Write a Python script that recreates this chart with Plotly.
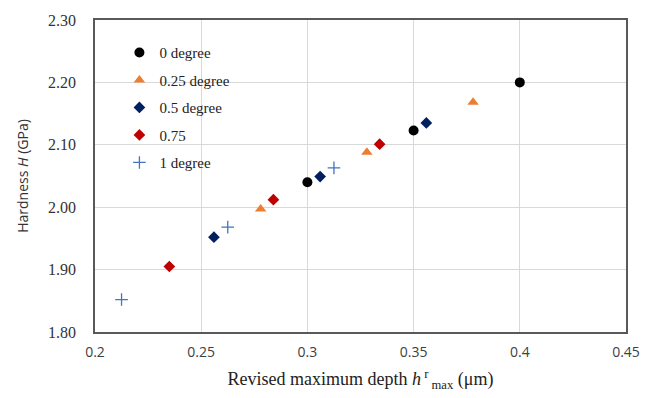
import plotly.graph_objects as go

series_names = ["0 degree", "0.25 degree", "0.5 degree", "0.75", "1 degree"]
x_0 = [0.300, 0.350, 0.400]
y_0 = [2.040, 2.123, 2.200]
x_025 = [0.278, 0.328, 0.378]
y_025 = [1.997, 2.088, 2.168]
x_05 = [0.256, 0.306, 0.356]
y_05 = [1.952, 2.049, 2.135]
x_075 = [0.235, 0.284, 0.334]
y_075 = [1.905, 2.012, 2.101]
x_1 = [0.2125, 0.2625, 0.3125]
y_1 = [1.852, 1.968, 2.063]

x_ticks = [0.2, 0.25, 0.3, 0.35, 0.4, 0.45]
x_ticklabels = ["0.2", "0.25", "0.3", "0.35", "0.4", "0.45"]
y_ticks = [1.8, 1.9, 2.0, 2.1, 2.2, 2.3]
y_ticklabels = ["1.80", "1.90", "2.00", "2.10", "2.20", "2.30"]

SERIF = "Times New Roman, Liberation Serif, DejaVu Serif, serif"
SANS = "Open Sans, Noto Sans, sans-serif"

styles = [
    dict(symbol="circle", color="#000000", size=10, line=dict(width=0)),
    dict(symbol="triangle-up", color="#ED7D31", size=10, line=dict(width=0)),
    dict(symbol="diamond", color="#002060", size=9, line=dict(width=0)),
    dict(symbol="diamond", color="#C00000", size=9, line=dict(width=0)),
    dict(symbol="cross-thin", color="#4472C4", size=9, line=dict(width=1.3, color="#4472C4")),
]
xs = [x_0, x_025, x_05, x_075, x_1]
ys = [y_0, y_025, y_05, y_075, y_1]

fig = go.Figure()
for i, (name, xv, yv, st) in enumerate(zip(series_names, xs, ys, styles)):
    fig.add_trace(go.Scatter(x=xv, y=yv, mode="markers", name=name,
                             legendgroup=f"g{i}", marker=st))

fig.update_layout(
    width=652, height=398,
    margin=dict(l=95, r=17, t=17, b=62),
    paper_bgcolor="white", plot_bgcolor="white",
    showlegend=True,
    legend=dict(x=0.046, y=0.948, xanchor="left", yanchor="top",
                bgcolor="rgba(0,0,0,0)", traceorder="grouped", tracegroupgap=5,
                font=dict(family=SERIF, size=15, color="#222222"),
                itemwidth=30),
    xaxis=dict(range=[0.2, 0.45], tickvals=x_ticks, ticktext=x_ticklabels,
               showgrid=True, gridcolor="#D9D9D9", gridwidth=1,
               showline=True, linecolor="#595959", linewidth=1.5, mirror=True,
               zeroline=False, ticks="outside", ticklen=6, tickcolor="rgba(0,0,0,0)",
               tickfont=dict(family=SANS, size=14, color="#404040"),
               title=dict(text="Revised maximum depth <i>h</i><sup> r</sup><sub> max</sub> (μm)",
                          font=dict(family=SERIF, size=18, color="#222222"),
                          standoff=13)),
    yaxis=dict(range=[1.8, 2.3], tickvals=y_ticks, ticktext=y_ticklabels,
               showgrid=True, gridcolor="#D9D9D9", gridwidth=1,
               showline=True, linecolor="#595959", linewidth=1.5, mirror=True,
               zeroline=False, ticks="outside", ticklen=14, tickcolor="rgba(0,0,0,0)",
               tickfont=dict(family=SERIF, size=16, color="#333333"),
               title=dict(text="Hardness <i>H</i> (GPa)",
                          font=dict(family=SANS, size=14, color="#333333"),
                          standoff=16)),
)

fig.write_html("out.html")
